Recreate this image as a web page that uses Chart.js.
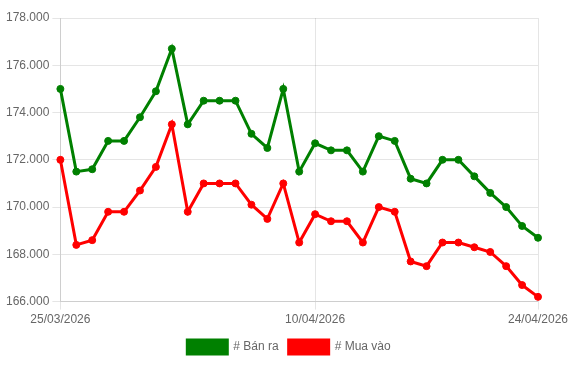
<!DOCTYPE html>
<html>
<head>
<meta charset="utf-8">
<script src="https://cdn.jsdelivr.net/npm/chart.js@4/dist/chart.umd.min.js"></script>
<style>
  html, body { margin: 0; padding: 0; background: #fff; }
  #wrap { width: 575px; height: 366px; }
</style>
</head>
<body>
<div id="wrap"><canvas id="chart"></canvas></div>
<script>
const labels = [
  "25/03/2026", "26/03/2026", "27/03/2026", "28/03/2026", "29/03/2026", "30/03/2026",
  "31/03/2026", "01/04/2026", "02/04/2026", "03/04/2026", "04/04/2026", "05/04/2026",
  "06/04/2026", "07/04/2026", "08/04/2026", "09/04/2026", "10/04/2026", "11/04/2026",
  "12/04/2026", "13/04/2026", "14/04/2026", "15/04/2026", "16/04/2026", "17/04/2026",
  "18/04/2026", "19/04/2026", "20/04/2026", "21/04/2026", "22/04/2026", "23/04/2026",
  "24/04/2026"
];
const banRa = [
  175000, 171500, 171600, 172800, 172800, 173800, 174900, 176700, 173500, 174500,
  174500, 174500, 173100, 172500, 175000, 171500, 172700, 172400, 172400, 171500,
  173000, 172800, 171200, 171000, 172000, 172000, 171300, 170600, 170000, 169200,
  168700
];
const muaVao = [
  172000, 168400, 168600, 169800, 169800, 170700, 171700, 173500, 169800, 171000,
  171000, 171000, 170100, 169500, 171000, 168500, 169700, 169400, 169400, 168500,
  170000, 169800, 167700, 167500, 168500, 168500, 168300, 168100, 167500, 166700,
  166200
];
const shownTicks = [0, 16, 30];

function fmt(v) {
  return String(Math.round(v)).replace(/\B(?=(\d{3})+(?!\d))/g, ".");
}

new Chart(document.getElementById("chart"), {
  type: "line",
  data: {
    labels: labels,
    datasets: [
      {
        label: "# Bán ra",
        data: banRa,
        borderColor: "green",
        backgroundColor: "green",
        borderWidth: 3,
        pointRadius: 3.5,
        pointBorderWidth: 1,
        tension: 0
      },
      {
        label: "# Mua vào",
        data: muaVao,
        borderColor: "red",
        backgroundColor: "red",
        borderWidth: 3,
        pointRadius: 3.5,
        pointBorderWidth: 1,
        tension: 0
      }
    ]
  },
  options: {
    responsive: true,
    maintainAspectRatio: false,
    animation: false,
    layout: { padding: { top: 18, left: 3, right: 0, bottom: 2 } },
    plugins: {
      legend: {
        position: "bottom",
        labels: { boxWidth: 40, boxHeight: 14, color: "#666" }
      },
      tooltip: { enabled: false }
    },
    scales: {
      x: {
        afterFit: function (scale) { scale.paddingRight = 37; },
        ticks: {
          autoSkip: false,
          maxRotation: 0,
          color: "#666",
          callback: function (val, i) {
            return shownTicks.includes(i) ? labels[i] : null;
          }
        }
      },
      y: {
        min: 166000,
        max: 178000,
        ticks: {
          stepSize: 2000,
          color: "#666",
          callback: function (v) { return fmt(v); }
        }
      }
    }
  }
});
</script>
</body>
</html>
